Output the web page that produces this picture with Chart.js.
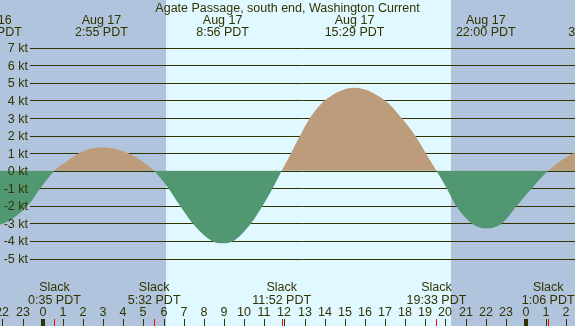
<!DOCTYPE html>
<html>
<head>
<meta charset="utf-8">
<script src="https://cdn.jsdelivr.net/npm/chart.js@4.4.1/dist/chart.umd.min.js"></script>
<style>
  html, body { margin: 0; padding: 0; background: #b0c4de; }
  #wrap { width: 575px; height: 326px; }
</style>
</head>
<body>
<div id="wrap"><canvas id="tideChart" width="575" height="326"></canvas></div>
<script>
// Agate Passage current, hours counted from Aug 17 00:00 PDT
const stationTitle = 'Agate Passage, south end, Washington Current';

// current speed curve (kt, + flood / - ebb)
const curveHours = [-3.6, -2.6, -1.95, -0.75, -0.12, 0.583,
    1.0, 1.8, 2.917, 4.25, 5.0, 5.533,
    6.24, 6.82, 7.45, 8.4, 8.933, 9.47, 10.34, 10.92, 11.42, 11.867,
    12.33, 12.78, 13.27, 14.0, 15.483, 17.0, 17.82, 18.49, 19.02, 19.55,
    20.06, 20.52, 21.3, 22.0, 22.8, 23.54, 24.28, 25.1,
    26.35, 27.4, 28.6];
const curveKnots = [-2.9, -3.1, -3.0, -2.0, -1.0, 0,
    0.38, 1.0, 1.33, 1.0, 0.5, 0,
    -1, -2, -3, -4, -4.13, -4, -3, -2, -1, 0,
    1, 2, 3, 4, 4.73, 4, 3, 2, 1, 0,
    -1, -2, -3, -3.28, -3, -2, -1, 0,
    1, 1.3, 1.0];

// max flood / max ebb labels along the top
const peakHours = [-2.52, 2.917, 8.933, 15.483, 22.0, 27.4];
const peakDates = ['Aug 16', 'Aug 17', 'Aug 17', 'Aug 17', 'Aug 17', 'Aug 18'];
const peakTimes = ['21:29 PDT', '2:55 PDT', '8:56 PDT', '15:29 PDT', '22:00 PDT', '3:24 PDT'];

// slack water labels along the bottom
const slackHours = [0.583, 5.533, 11.867, 19.55, 25.1];
const slackTimes = ['0:35 PDT', '5:32 PDT', '11:52 PDT', '19:33 PDT', '1:06 PDT'];

// y axis labels
const knotTicks = [7, 6, 5, 4, 3, 2, 1, 0, -1, -2, -3, -4, -5];

// hour ticks along the bottom
const hourTicks = [];
for (let h = -2; h <= 26; h++) hourTicks.push(h);

const sunriseHour = 6.12;
const sunsetHour = 20.27;

const colors = {
    night: '#b0c4de',
    day: '#e0f8ff',
    flood: '#bd9c7b',
    ebb: '#519772',
    ink: '#333300',
    slack: '#ff0000'
};
const font = '12.5px "Liberation Sans", Arial, sans-serif';

const tideDecor = {
    id: 'tideDecor',
    beforeDraw(chart) {
        const { ctx, scales: { x } } = chart;
        const rise = Math.round(x.getPixelForValue(sunriseHour));
        const set = Math.round(x.getPixelForValue(sunsetHour));
        ctx.save();
        ctx.fillStyle = colors.night;
        ctx.fillRect(0, 0, chart.width, chart.height);
        ctx.fillStyle = colors.day;
        ctx.fillRect(rise, 0, set - rise, chart.height);
        ctx.restore();
    },
    beforeDatasetsDraw(chart) {
        const { ctx, scales: { y } } = chart;
        ctx.save();
        ctx.strokeStyle = colors.ink;
        ctx.lineWidth = 1;
        knotTicks.forEach(k => {
            const py = Math.round(y.getPixelForValue(k)) + 0.5;
            ctx.beginPath();
            ctx.moveTo(30, py);
            ctx.lineTo(chart.width, py);
            ctx.stroke();
        });
        ctx.restore();
    },
    afterDatasetsDraw(chart) {
        const { ctx, scales: { x, y } } = chart;
        ctx.save();
        ctx.font = font;
        ctx.fillStyle = colors.ink;
        ctx.textBaseline = 'alphabetic';

        // title
        ctx.textAlign = 'center';
        ctx.fillText(stationTitle, chart.width / 2, 12);

        // knot labels
        ctx.textAlign = 'right';
        knotTicks.forEach(k => {
            ctx.fillText(k + ' kt', 28, y.getPixelForValue(k) + 4.5);
        });

        // peaks
        ctx.textAlign = 'center';
        peakHours.forEach((h, i) => {
            const px = x.getPixelForValue(h);
            ctx.fillText(peakDates[i], px, 24);
            ctx.fillText(peakTimes[i], px, 36);
        });

        // slacks
        slackHours.forEach((h, i) => {
            const px = x.getPixelForValue(h);
            ctx.fillText('Slack', px, 291);
            ctx.fillText(slackTimes[i], px, 304);
        });

        // hour labels and ticks
        hourTicks.forEach(h => {
            const px = Math.round(x.getPixelForValue(h));
            ctx.fillText(String((h + 24) % 24), px, 316);
            if ((h + 24) % 24 === 0) {
                ctx.fillRect(px - 2, 319, 4, 7);
            } else {
                ctx.fillRect(px, 319, 1, 7);
            }
        });
        ctx.fillStyle = colors.slack;
        slackHours.forEach(h => {
            const px = Math.round(x.getPixelForValue(h));
            ctx.fillRect(px, 319, 1, 7);
        });
        ctx.restore();
    }
};

const ctx = document.getElementById('tideChart').getContext('2d');
new Chart(ctx, {
    type: 'line',
    data: {
        datasets: [{
            data: curveHours.map((h, i) => ({ x: h, y: curveKnots[i] })),
            borderWidth: 0,
            pointRadius: 0,
            cubicInterpolationMode: 'monotone',
            fill: { target: 'origin', above: colors.flood, below: colors.ebb }
        }]
    },
    options: {
        responsive: false,
        animation: false,
        devicePixelRatio: 1,
        layout: { padding: 0 },
        plugins: { legend: { display: false }, tooltip: { enabled: false } },
        scales: {
            x: { type: 'linear', display: false, min: -2.12, max: 26.43 },
            y: { type: 'linear', display: false, min: -8.84, max: 9.72 }
        }
    },
    plugins: [tideDecor]
});
</script>
</body>
</html>
